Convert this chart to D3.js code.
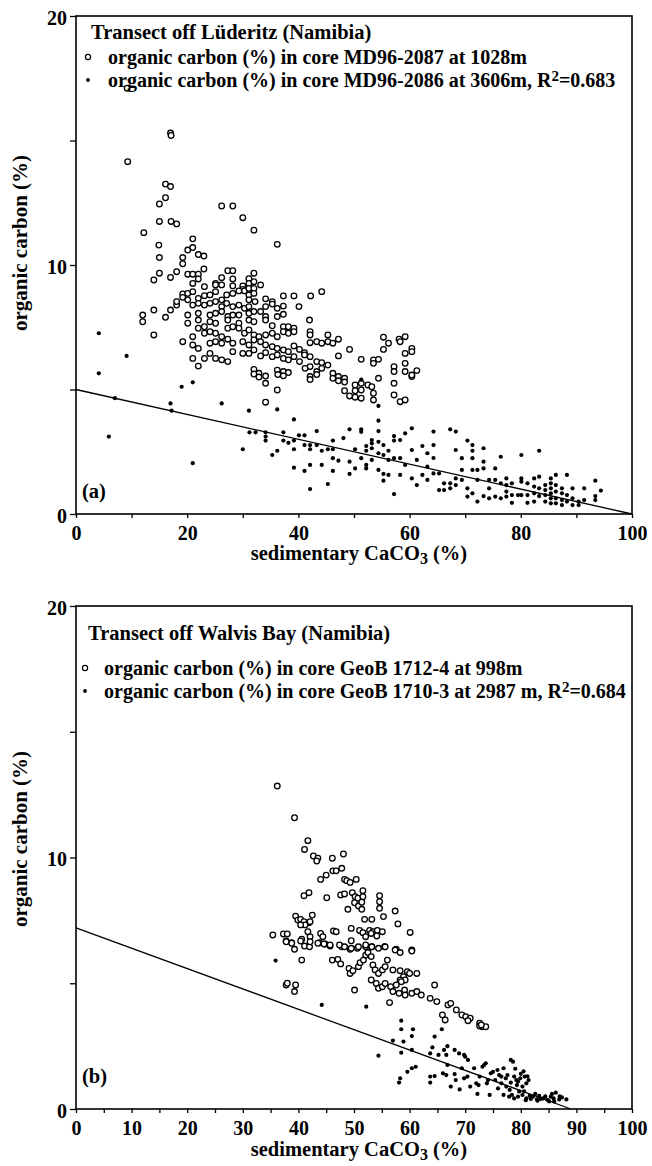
<!DOCTYPE html>
<html>
<head>
<meta charset="utf-8">
<script src="https://cdn.jsdelivr.net/npm/d3@7"></script>
<style>
  body { margin: 0; background: #fff; }
  svg text { font-family: "Liberation Serif", "Times New Roman", serif; font-weight: bold; fill: #000; }
</style>
</head>
<body>
<div id="chart"></div>
<script>
// data: [CaCO3 %, organic carbon %]
const luderitzShallow = [
  [9.2,17.1],[17.0,15.3],[17.1,15.2],[9.3,14.15],[16.1,13.25],[17.0,13.15],[16.1,12.7],[15.0,12.45],[15.0,11.75],[17.1,11.75],[18.1,11.65],[12.2,11.3],[14.9,10.8],[15.0,10.3],[15.0,9.67],[14.0,9.4],[17.0,9.5],[18.1,9.73],[19.2,10.3],[19.2,10.05],[20.1,10.6],[21.0,10.7],[21.0,11.05],[22.0,10.42],[23.0,10.36],[23.0,9.84],[26.2,12.37],[28.2,12.37],[30.0,11.9],[32.0,11.4],[36.2,10.83],[27.3,9.77],[28.2,9.77],[32.0,9.67],[44.2,8.93],[42.2,8.76],[39.2,8.76],[37.3,8.76],[40.1,8.33],
  [20.1,9.63],[21.0,9.63],[22.0,9.63],[22.0,9.44],[21.0,9.26],[23.1,9.13],[25.1,9.26],[26.2,9.49],[25.1,9.2],[26.2,9.2],[28.2,9.44],[28.2,9.16],[30.0,9.16],[31.1,9.45],[31.1,9.26],[32.0,9.33],[33.2,9.2],[30.0,9.02],
  [19.2,8.84],[20.1,8.86],[21.0,8.93],[19.2,8.7],[22.0,8.66],[23.1,8.77],[24.1,8.8],[25.1,8.93],[26.2,8.6],[27.1,8.8],[28.2,8.86],[29.3,8.96],[30.3,8.96],[31.1,9.06],[32.0,9.06],[31.1,8.8],[32.0,8.86],[34.1,8.64],[35.3,8.53],
  [12.0,7.99],[14.0,8.19],[17.0,8.19],[18.1,8.39],[18.1,8.53],[20.1,8.6],[21.0,8.39],[22.0,8.46],[23.1,8.39],[24.1,8.46],[25.1,8.53],[26.2,8.33],[27.1,8.46],[28.2,8.33],[29.3,8.39],[30.3,8.26],[31.1,8.33],[31.1,8.6],[32.2,8.53],[34.1,8.33],[35.3,8.43],[36.2,8.26],[37.3,8.35],
  [12.0,7.72],[16.1,7.9],[20.1,7.99],[22.0,8.06],[24.1,7.99],[25.1,8.06],[26.2,8.13],[27.3,7.93],[28.2,7.99],[29.3,7.99],[31.1,8.06],[32.0,8.13],[33.2,8.13],[34.1,7.93],[36.2,7.93],[37.3,8.02],[20.1,7.66],[22.0,7.79],[23.1,7.52],[24.1,7.72],[25.1,7.66],[27.3,7.79],[29.3,7.66],[31.1,7.79],[32.0,7.72],[34.1,7.79],[35.3,7.56],[37.3,7.52],[38.2,7.52],[39.2,7.46],[42.0,7.79],
  [14.0,7.19],[19.2,6.92],[21.0,7.12],[22.0,7.46],[23.1,7.26],[24.1,7.32],[25.1,7.26],[26.2,7.12],[27.3,7.46],[28.2,7.52],[29.3,7.46],[30.3,7.26],[31.1,7.39],[32.0,7.19],[32.9,7.12],[34.1,7.19],[35.3,7.26],[36.2,7.12],[37.3,7.32],[38.2,7.26],[39.2,7.32],[42.1,7.32],[42.1,7.19],[45.3,7.19],[47.2,7.02],[55.3,7.1],[56.2,6.86],[58.1,7.02],[59.2,7.12],
  [21.0,6.79],[22.0,6.65],[24.1,6.86],[25.1,6.92],[26.2,6.86],[27.3,7.02],[28.2,6.86],[30.0,6.92],[31.1,6.79],[32.0,6.99],[33.2,6.92],[34.1,6.79],[35.3,6.72],[36.2,6.65],[37.3,6.59],[38.2,6.52],[39.2,6.75],[40.2,6.61],[41.1,6.48],[42.1,6.88],[43.3,6.92],[44.2,6.86],[45.3,6.92],[46.2,6.86],[49.2,6.61],[55.3,6.61],[58.3,6.92],[60.4,6.65],[59.2,6.45],
  [21.0,6.25],[22.0,5.94],[23.1,6.25],[24.1,6.45],[25.1,6.25],[26.2,6.19],[27.3,6.12],[28.2,6.52],[30.0,6.45],[31.1,6.45],[32.0,6.59],[33.2,6.35],[34.1,6.48],[35.3,6.32],[36.2,6.39],[37.3,6.25],[38.2,6.19],[39.2,6.32],[40.2,6.12],[41.1,6.39],[42.1,6.32],[43.3,6.12],[44.2,6.08],[45.3,5.98],[47.2,6.35],[51.3,6.21],[53.5,6.19],[54.4,6.21],[57.2,5.92],[59.2,6.05],[60.4,6.52],
  [32.0,5.81],[32.9,5.65],[34.1,5.54],[36.2,5.78],[37.3,5.72],[38.2,5.68],[42.1,5.92],[42.1,5.52],[43.3,5.72],[44.2,5.85],[46.2,5.65],[47.2,5.52],[48.3,5.45],[53.5,6.05],[54.4,5.45],[57.2,5.72],[59.2,5.72],[60.4,5.52],[61.3,5.76],[41.2,5.85],
  [32.0,5.62],[32.9,5.5],[34.1,5.25],[36.2,4.98],[36.3,5.6],[37.3,5.55],[42.1,5.4],[43.3,5.6],[46.2,5.45],[47.2,5.35],[48.3,5.3],[50.2,5.18],[51.3,5.25],[52.5,5.18],[53.2,5.11],[51.3,4.98],[50.2,4.95],[48.3,4.95],[49.2,4.74],[50.2,4.69],[51.3,4.65],[53.5,4.85],[53.5,4.58],[57.2,4.78],[57.2,5.25],[58.3,4.51],[59.2,4.58],[60.4,5.58],[34.1,4.49]
];

const luderitzDeep = [
  [4.1,7.26],[9.1,6.35],[4.1,5.65],[7.0,4.65],[5.9,3.11],[17.0,4.44],[17.2,4.15],[19.0,5.11],[21.0,5.29],[21.0,2.04],[26.2,4.44],[31.1,4.15],[30.0,2.6],[31.2,3.28],[32.3,3.28],[34.1,3.28],[34.1,3.11],[34.1,2.95],[36.2,4.2],[36.2,2.54],[35.3,2.37],[37.3,3.28],[37.3,2.95],[38.2,2.86],[39.2,3.8],[39.2,2.95],[39.2,2.6],[40.1,3.16],[41.1,3.16],[41.1,2.77],[42.1,2.77],[42.1,2.6],[39.2,1.86],[41.1,1.73],[42.1,1.97],[42.1,1.0],[43.3,3.33],[43.3,2.77],[44.2,1.97],[44.2,2.54],[45.3,2.6],[46.2,2.6],[46.2,2.95],[46.2,2.24],[47.2,2.14],[46.2,1.73],[45.3,1.2],[48.1,3.05],[49.2,3.4],[49.2,2.1],[49.2,1.61],[50.2,2.6],[50.2,1.83],[51.3,3.4],[51.3,3.3],[51.3,2.24],[51.3,5.4],
  [52.2,2.73],[52.2,2.54],[52.2,1.97],[52.2,1.83],[53.2,2.97],[53.2,2.84],[53.2,2.64],[53.2,2.17],[54.4,4.34],[54.4,3.75],[54.4,3.33],[54.4,2.9],[54.4,2.44],[54.4,1.77],[55.3,2.77],[55.3,2.37],[55.3,1.34],[55.3,1.61],[56.2,2.54],[56.2,2.17],[56.2,1.57],[57.2,2.95],[57.2,3.13],[57.2,2.24],[57.2,0.8],[58.3,2.97],[58.3,2.24],[58.3,1.57],[59.2,3.24],[59.2,1.97],[60.4,3.44],[60.4,2.57],[60.4,1.43],[61.3,2.17],[61.3,1.16],[62.3,2.73],[62.3,1.57],[63.2,2.44],[63.2,1.9],[63.2,1.37],[64.3,3.31],[64.3,2.77],[64.3,1.63],[64.3,2.25],
  [65.3,0.96],[65.3,1.63],[66.2,1.23],[66.2,0.96],[67.3,3.4],[67.3,1.23],[67.3,1.03],[68.3,3.31],[68.3,2.57],[68.3,1.43],[68.3,1.16],[69.4,2.24],[69.4,1.77],[69.4,1.37],[70.4,2.95],[70.4,0.7],[70.4,1.03],[71.3,2.77],[71.3,2.54],[71.3,2.24],[71.3,1.77],[71.3,0.83],[72.2,1.77],[72.2,1.37],[72.2,0.5],[73.3,2.64],[73.3,2.1],[73.3,1.83],[73.3,0.72],[74.3,1.37],[74.3,1.03],[74.3,0.63],[75.4,1.83],[75.4,1.37],[75.4,0.7],[76.4,2.3],[76.4,1.23],[76.4,0.63],
  [77.4,1.43],[77.4,1.16],[77.4,0.9],[77.4,0.7],[78.4,1.23],[78.4,0.76],[78.4,0.45],[79.5,0.76],[80.1,2.37],[80.1,1.43],[80.1,1.3],[80.1,0.76],[81.2,1.23],[81.2,0.76],[81.2,0.45],[82.4,1.43],[82.4,1.1],[82.4,0.83],[82.4,0.5],[83.3,2.54],[83.3,1.5],[83.3,1.03],[83.3,0.72],[84.4,1.16],[84.4,0.96],[84.4,0.76],[84.4,0.5],[85.4,1.43],[85.4,1.23],[85.4,1.03],[85.4,0.83],[85.4,0.63],[85.4,0.43],[86.3,1.57],[86.3,1.16],[86.3,0.9],[86.3,0.63],[86.3,0.43],
  [87.4,1.03],[87.4,0.83],[87.4,0.56],[87.4,0.36],[88.3,1.57],[88.3,0.76],[88.3,0.5],[89.3,1.03],[89.3,0.63],[89.3,0.36],[90.4,0.5],[90.4,0.36],[91.4,1.03],[91.4,0.56],[93.4,1.34],[93.4,0.72],[93.4,0.56],[94.4,0.94]
];

const walvisShallow = [
  [36.2,12.84],[39.3,11.58],[41.7,10.67],[41.1,10.32],[42.7,10.06],[43.5,9.97],[43.3,9.86],[46.1,9.97],[48.1,10.14],[47.8,9.57],[46.2,9.47],[46.8,9.47],[45.0,9.3],[44.0,9.13],[48.3,9.13],[48.7,9.08],[49.3,9.01],[50.4,9.13],[41.0,8.48],[41.9,8.6],[45.1,8.4],[47.6,8.51],[48.3,8.55],[49.7,8.6],[50.2,8.44],[50.7,8.38],[51.6,8.68],[51.6,8.44],[54.6,8.48],[54.6,8.24],[54.6,7.98],[50.1,8.2],[50.8,8.07],[51.4,8.22],[48.9,7.94],[51.4,7.94],[57.4,7.87],
  [39.5,7.67],[39.9,7.51],[40.4,7.54],[41.0,7.45],[41.9,7.41],[41.2,7.32],[40.4,7.32],[42.5,7.71],[42.1,7.45],[51.9,7.54],[53.2,7.54],[55.3,7.65],[57.9,7.36],[49.5,7.18],[35.4,6.92],[37.3,6.96],[38.0,6.96],[37.8,6.68],[38.8,6.61],[40.6,6.75],[42.1,6.85],[41.7,7.05],[44.0,6.98],[44.4,6.85],[46.3,7.08],[46.8,7.05],[51.0,7.1],[51.6,7.01],[52.8,7.1],[53.4,7.05],[54.2,7.1],[55.1,7.05],[52.1,6.85],[53.1,6.98],[54.1,6.88],[60.1,7.02],
  [39.3,6.35],[41.1,6.48],[44.8,6.56],[45.7,6.48],[49.5,6.69],[47.8,6.45],[49.3,6.35],[50.6,6.39],[52.1,6.45],[53.2,6.45],[55.5,6.45],[57.6,6.35],[60.4,6.32],[42.0,6.45],[43.8,6.61],
  [37.8,6.65],[38.8,6.59],[40.4,6.68],[42.1,6.65],[43.5,6.59],[44.6,6.56],[45.7,6.52],[47.4,6.52],[48.3,6.45],[49.5,6.39],[50.8,6.45],[52.1,6.52],[53.2,6.45],[54.4,6.39],[55.6,6.45],[57.4,6.32],[58.3,6.22],[60.4,6.28],
  [40.6,5.92],[46.1,5.92],[47.1,5.95],[47.6,5.77],[49.1,5.59],[49.3,5.39],[49.8,5.5],[50.8,5.66],[51.1,5.82],[51.7,5.92],[52.1,6.12],[52.5,6.22],[53.1,6.06],[53.4,5.73],[53.8,5.53],[54.4,5.39],[55.1,5.53],[55.6,5.66],[56.0,5.92],[57.0,5.53],[58.3,5.5],[58.9,5.26],[59.6,5.46],[60.0,5.39],[61.3,5.39],[58.3,5.13],[59.2,5.13],
  [53.1,5.13],[54.0,4.99],[54.4,4.8],[55.1,4.86],[55.6,4.99],[56.6,4.86],[57.6,4.93],[58.5,5.06],[59.1,4.73],[57.0,4.67],[58.1,4.6],[60.4,4.6],[61.3,4.67],[62.1,4.53],[56.4,4.23],[59.2,4.53],
  [50.1,4.73],[37.8,4.93],[38.0,5.0],[39.5,4.93],[39.3,4.67],
  [63.7,4.4],[64.9,4.27],[64.5,4.93],[65.9,3.74],[66.4,3.54],[66.9,4.14],[67.4,4.2],[68.4,3.94],[69.4,3.74],[70.1,3.67],[70.9,3.61],[70.5,3.51],[72.6,3.41],[73.1,3.27],[73.7,3.27],[72.6,3.3],[72.9,3.34]
];

const walvisDeep = [
  [35.9,5.9],[44.2,4.14],[52.2,4.07],[58.5,3.51],[58.5,3.17],[60.6,3.17],[60.4,2.9],[57.0,2.72],[58.9,2.68],[60.4,2.35],[58.5,2.24],[54.4,2.12],
  [64.5,2.88],[65.8,3.17],[64.1,2.45],[63.7,2.21],[65.2,2.15],[66.2,2.35],[66.8,2.5],[66.6,2.15],[68.1,2.35],[68.9,2.21],[69.8,2.15],[70.0,2.08],[70.5,1.95],
  [59.6,1.48],[60.4,1.62],[61.1,1.68],[58.3,1.22],[58.1,1.05],[63.7,1.29],[64.5,1.31],[63.7,1.05],[66.0,1.42],[66.8,1.75],[66.6,1.35],[67.4,0.89],[68.3,1.15],[68.1,1.39],[69.0,0.78],[69.4,1.62],[69.8,1.22],[70.4,1.29],[70.9,0.89],[71.6,1.62],[72.0,1.02],[72.2,0.6],[72.4,0.95],[73.1,1.68],[73.4,1.75],[73.7,1.82],[74.1,1.15],[74.6,1.42],[75.0,1.48],[75.4,1.15],[75.8,1.55],[76.1,1.35],[76.5,1.29],[76.5,1.02],[76.9,1.62],[77.3,1.22],[77.6,1.35],
  [78.2,1.95],[78.6,1.88],[78.8,1.29],[79.2,1.15],[79.5,1.09],[79.9,1.22],[80.3,0.89],[80.7,1.29],[81.0,1.02],[81.4,1.15],[77.4,0.89],[78.0,0.76],[78.4,0.56],[78.8,0.42],[79.5,0.49],[80.3,0.56],[81.0,0.42],[81.6,0.52],[82.2,0.49],[82.9,0.38],[83.3,0.52],[84.0,0.42],[84.8,0.36],[85.4,0.49],[85.9,0.42],[86.3,0.65],[86.9,0.38],[87.4,0.46],[88.2,0.38],[76.9,0.56],[77.9,0.49],[74.4,0.56],[72.6,1.29],[73.9,1.02],[75.9,0.82],
  [79.0,1.6],[80.0,1.4],[80.5,1.5],[81.2,1.3],[79.7,0.7],[80.6,0.7],[81.8,0.4],[82.6,0.6],[83.6,0.4],[84.4,0.5],[85.1,0.3],[86.0,0.3],[87.0,0.5],[80.9,0.35],[83.0,0.33],[85.6,0.6],[78.2,1.05],[79.3,0.95]
];

// regression lines for the deep cores
const fitLuderitz = { intercept: 5.0, slope: -0.05, xEnd: 100 };
const fitWalvis = { intercept: 7.2, slope: -0.0809, xEnd: 89 };

// tick values
const yTicks = [0, 5, 10, 15, 20];
const xTicksA = d3.range(0, 101, 10);
const xTicksB = d3.range(0, 101, 5);

const W = 652, H = 1166;
const left = 76, right = 632;

const svg = d3.select("#chart").append("svg")
    .attr("width", W)
    .attr("height", H);

function drawPanel(p) {
    const x = d3.scaleLinear().domain([0, 100]).range([left, right]);
    const y = d3.scaleLinear().domain([0, 20]).range([p.bottom, p.top]);
    const g = svg.append("g");

    // x axis
    const xAxis = g.append("g")
        .attr("transform", `translate(0,${p.bottom})`)
        .call(d3.axisBottom(x).tickValues(p.xTicks).tickSize(4).tickPadding(8)
            .tickFormat(d => d % p.xLabelEvery === 0 ? d : ""));
    // y axis
    const yAxis = g.append("g")
        .attr("transform", `translate(${left},0)`)
        .call(d3.axisLeft(y).tickValues(yTicks).tickSize(6).tickPadding(3)
            .tickFormat(d => d % 10 === 0 ? d : ""));

    [xAxis, yAxis].forEach(a => {
        a.select(".domain").remove();
        a.selectAll("line").attr("stroke", "#000").attr("stroke-width", 1.3);
        a.selectAll("text").style("font-size", "20px").attr("fill", "#000");
    });
    yAxis.selectAll("text").attr("dy", "0.4em");

    // frame
    g.append("rect")
        .attr("x", left).attr("y", p.top)
        .attr("width", right - left).attr("height", p.bottom - p.top)
        .attr("fill", "none").attr("stroke", "#000").attr("stroke-width", 1.6);

    // shallow core: open circles
    g.selectAll(".open")
        .data(p.open)
        .enter()
        .append("circle")
        .attr("cx", d => x(d[0]))
        .attr("cy", d => y(d[1]))
        .attr("r", 2.8)
        .attr("fill", "#fff")
        .attr("stroke", "#000")
        .attr("stroke-width", 1.3);

    // deep core: dots
    g.selectAll(".dot")
        .data(p.dots)
        .enter()
        .append("circle")
        .attr("cx", d => x(d[0]))
        .attr("cy", d => y(d[1]))
        .attr("r", 2.1)
        .attr("fill", "#000");

    // regression line
    g.append("line")
        .attr("x1", x(0)).attr("y1", y(p.fit.intercept))
        .attr("x2", x(p.fit.xEnd)).attr("y2", y(p.fit.intercept + p.fit.slope * p.fit.xEnd))
        .attr("stroke", "#000").attr("stroke-width", 1.3);

    // title + legend
    g.append("text")
        .attr("x", p.titleX).attr("y", p.titleY)
        .style("font-size", "20.5px")
        .text(p.title);

    g.append("circle")
        .attr("cx", p.symX).attr("cy", p.leg1Y - 7)
        .attr("r", 2.6).attr("fill", "#fff").attr("stroke", "#000").attr("stroke-width", 1.2);
    g.append("text")
        .attr("x", p.textX).attr("y", p.leg1Y)
        .style("font-size", "20px")
        .text(p.leg1);

    g.append("circle")
        .attr("cx", p.symX).attr("cy", p.leg2Y - 7)
        .attr("r", 1.9).attr("fill", "#000");
    const t2 = g.append("text")
        .attr("x", p.textX).attr("y", p.leg2Y)
        .style("font-size", "20px");
    t2.append("tspan").text(p.leg2);
    t2.append("tspan").attr("dy", -6).style("font-size", "15px").text("2");
    t2.append("tspan").attr("dy", 6).text(p.r2);

    // panel letter
    g.append("text")
        .attr("x", left + 6).attr("y", p.letterY)
        .style("font-size", "20.5px")
        .text(p.letter);

    // axis labels
    const xl = g.append("text")
        .attr("x", 359).attr("y", p.xLabelY)
        .attr("text-anchor", "middle")
        .style("font-size", "20.5px");
    xl.append("tspan").text("sedimentary CaCO");
    xl.append("tspan").attr("dy", 4).style("font-size", "16px").text("3");
    xl.append("tspan").attr("dy", -4).text(" (%)");

    g.append("text")
        .attr("transform", `translate(27,${p.yLabelY}) rotate(-90)`)
        .attr("text-anchor", "middle")
        .style("font-size", "21px")
        .text("organic carbon (%)");
}

drawPanel({
    top: 16, bottom: 514,
    xTicks: xTicksA, xLabelEvery: 20,
    open: luderitzShallow, dots: luderitzDeep, fit: fitLuderitz,
    title: "Transect off Lüderitz (Namibia)", titleX: 91, titleY: 39,
    symX: 88, textX: 108, leg1Y: 64, leg2Y: 87,
    leg1: "organic carbon (%) in core MD96-2087 at 1028m",
    leg2: "organic carbon (%) in core MD96-2086 at 3606m, R",
    r2: "=0.683",
    letter: "(a)", letterY: 498,
    xLabelY: 560, yLabelY: 243
});

drawPanel({
    top: 606, bottom: 1109,
    xTicks: xTicksB, xLabelEvery: 10,
    open: walvisShallow, dots: walvisDeep, fit: fitWalvis,
    title: "Transect off Walvis Bay (Namibia)", titleX: 88, titleY: 640,
    symX: 85, textX: 104, leg1Y: 675, leg2Y: 698,
    leg1: "organic carbon (%) in core GeoB 1712-4 at 998m",
    leg2: "organic carbon (%) in core GeoB 1710-3 at 2987 m, R",
    r2: "=0.684",
    letter: "(b)", letterY: 1083,
    xLabelY: 1156, yLabelY: 839
});
</script>
</body>
</html>
